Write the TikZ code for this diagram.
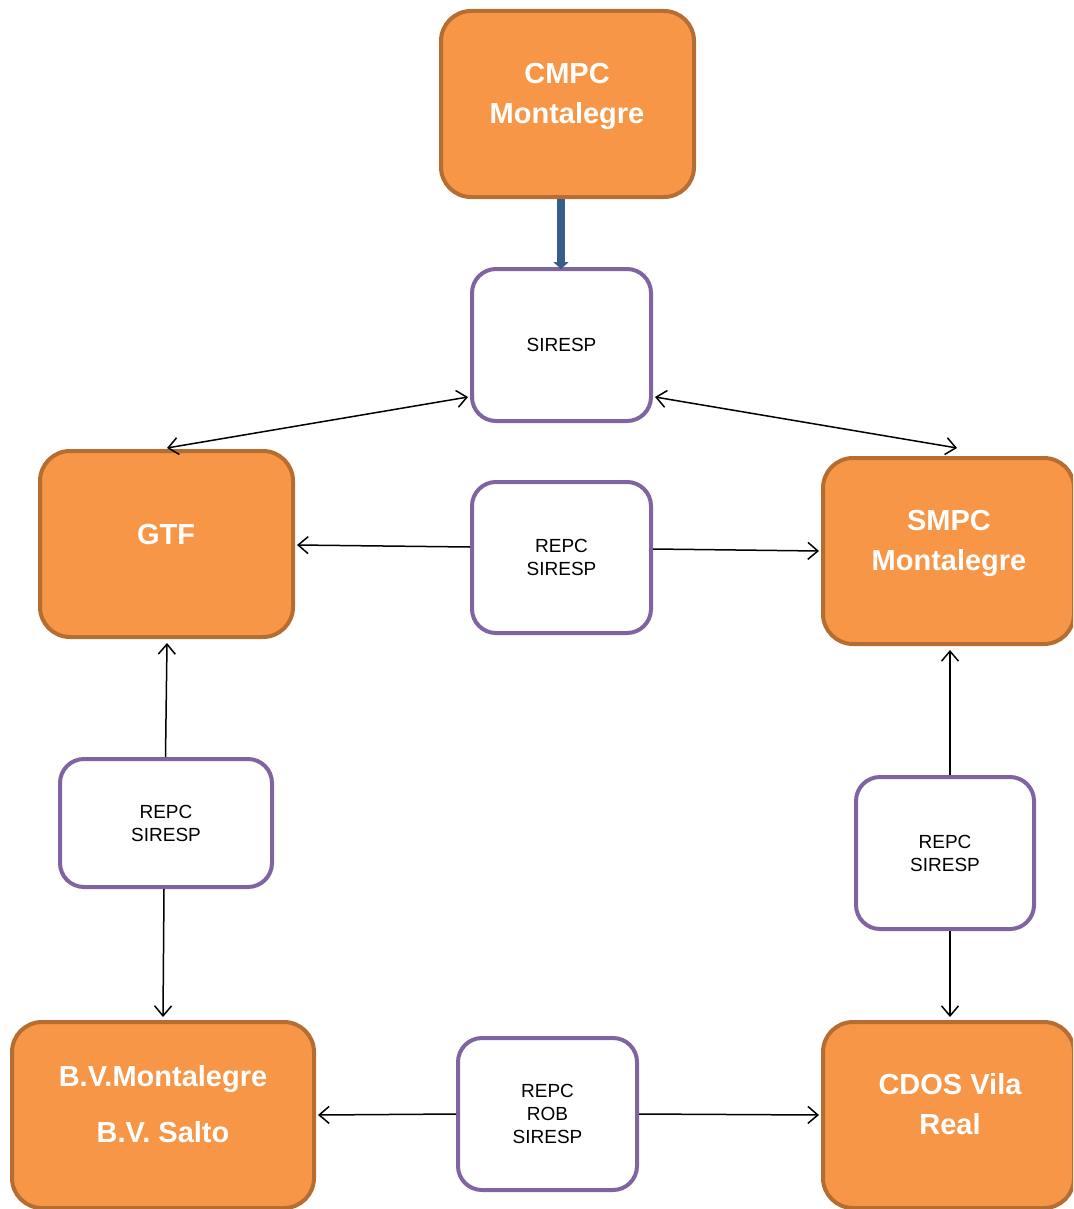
\documentclass[tikz,border=0pt]{standalone}
\usepackage{fontspec}
\setmainfont{Liberation Sans}
\usetikzlibrary{arrows.meta}
\definecolor{orF}{HTML}{F79646}
\definecolor{orD}{HTML}{B66D31}
\definecolor{puD}{HTML}{8064A2}
\definecolor{blD}{HTML}{385D8A}
\tikzset{
  obox/.style={draw=orD, fill=orF, line width=4pt, rounded corners=30pt, minimum width=253pt, minimum height=186pt, inner sep=0pt},
  pbox/.style={draw=puD, fill=white, line width=4pt, rounded corners=24pt, inner sep=0pt, align=center, font=\fontsize{19}{23}\selectfont},
  otext/.style={text=white, font=\bfseries\fontsize{29}{40}\selectfont, align=center, inner sep=0pt},
  conn/.style={line width=1.5pt, draw=black, arrows={-Straight Barb[length=10pt,width=17pt]}},
  dconn/.style={line width=1.5pt, draw=black, arrows={Straight Barb[length=10pt,width=17pt]-Straight Barb[length=10pt,width=17pt]}}
}
\begin{document}
\begin{tikzpicture}[x=1pt,y=-1pt]
\useasboundingbox (0,0) rectangle (1073,1209);
\clip (0,0) rectangle (1073,1209);
% orange boxes
\node[obox] (cmpc) at (567.5,104) {};
\node[otext] (cmpct) at (567,96) {CMPC\\Montalegre};
\node[obox] (gtf) at (166.5,544) {};
\node[otext] (gtft) at (166,535) {GTF};
\node[obox, minimum width=251pt] (smpc) at (948.5,551) {};
\node[otext] (smpct) at (949,543) {SMPC\\Montalegre};
\node[obox, minimum width=302pt] (bv) at (163,1115) {};
\node[otext, font=\bfseries\fontsize{29}{56}\selectfont] (bvt) at (163,1104) {B.V.Montalegre\\B.V. Salto};
\node[obox, minimum width=251pt] (cdos) at (948.5,1115) {};
\node[otext] (cdost) at (950,1104) {CDOS Vila\\Real};
% purple boxes
\node[pbox, minimum width=179pt, minimum height=152pt] (sir) at (561.5,345) {SIRESP};
\node[pbox, minimum width=179pt, minimum height=151pt] (mrepc) at (561.5,557.5) {REPC\\SIRESP};
\node[pbox, minimum width=212pt, minimum height=128pt] (lrepc) at (166,823) {REPC\\SIRESP};
\node[pbox, minimum width=178pt, minimum height=152pt] (rrepc) at (945,853) {REPC\\SIRESP};
\node[pbox, minimum width=179pt, minimum height=152pt] (brepc) at (547.5,1114) {REPC\\ROB\\SIRESP};
% connectors
\draw[blD, line width=8pt, -{Triangle[length=7pt,width=15pt]}] ([xshift=-6.5pt]cmpc.south) -- ([xshift=-0.5pt,yshift=-2pt]sir.north);
\draw[dconn] ([xshift=-2pt]sir.west |- 0,397) -- ([xshift=0.5pt,yshift=1pt]gtf.north);
\draw[dconn] ([xshift=2pt]sir.east |- 0,397) -- ([xshift=8.5pt,yshift=8pt]smpc.north);
\draw[conn] (mrepc.west |- 0,547) -- ([xshift=2pt]gtf.east |- 0,545);
\draw[conn] (mrepc.east |- 0,549) -- ([xshift=-2pt]smpc.west |- 0,551);
\draw[conn] ([xshift=-0.5pt]lrepc.north) -- ([xshift=0.5pt,yshift=-4pt]gtf.south);
\draw[conn] ([xshift=-2pt]lrepc.south) -- ([yshift=3pt]bv.north);
\draw[conn] (rrepc.north -| 950,0) -- ([yshift=-4pt]smpc.south -| 950,0);
\draw[conn] (rrepc.south -| 950,0) -- ([yshift=3pt]cdos.north -| 950,0);
\draw[conn] (brepc.west) -- ([xshift=2pt]bv.east);
\draw[conn] (brepc.east) -- ([xshift=-2pt]cdos.west);
\end{tikzpicture}
\end{document}
